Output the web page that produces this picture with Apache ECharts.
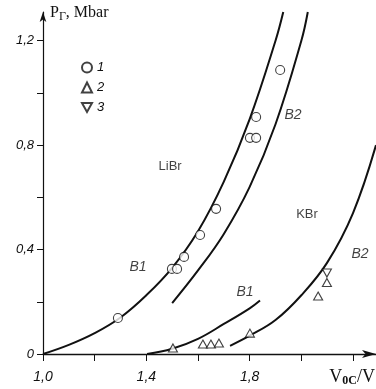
<!DOCTYPE html>
<html>
<head>
<meta charset="utf-8">
<script src="https://cdn.jsdelivr.net/npm/echarts@6/dist/echarts.min.js"></script>
<style>
  html, body { margin: 0; padding: 0; background: #fff; }
  #chart { width: 376px; height: 389px; }
</style>
</head>
<body>
<div id="chart"></div>
<script>
// curves [V0c/V, P Mbar]
const librB1 = [[1.0, 0], [1.1, 0.035], [1.2, 0.08], [1.3, 0.14], [1.4, 0.225], [1.5, 0.33],
  [1.6, 0.47], [1.7, 0.66], [1.8, 0.9], [1.9, 1.2], [1.93, 1.31]];
const librB2 = [[1.5, 0.195], [1.6, 0.32], [1.7, 0.46], [1.8, 0.64], [1.9, 0.88], [2.0, 1.2], [2.025, 1.31]];
const kbrB1 = [[1.403, 0], [1.5, 0.02], [1.6, 0.058], [1.7, 0.115], [1.8, 0.175], [1.84, 0.205]];
const kbrB2 = [[1.724, 0.031], [1.8, 0.07], [1.9, 0.13], [2.0, 0.225], [2.1, 0.35], [2.2, 0.54], [2.289, 0.8]];

// measured points
const points1 = [[1.29, 0.138], [1.499, 0.326], [1.519, 0.326], [1.546, 0.372], [1.608, 0.456],
  [1.67, 0.556], [1.801, 0.828], [1.825, 0.828], [1.825, 0.908], [1.918, 1.088]];
const points2 = [[1.503, 0.023], [1.619, 0.038], [1.65, 0.038], [1.681, 0.042], [1.801, 0.08],
  [2.065, 0.222], [2.099, 0.274]];
const points3 = [[2.099, 0.31]];

// in-plot annotations
const saltNames = [{name: 'LiBr', value: [1.492, 0.72]}, {name: 'KBr', value: [2.022, 0.533]}];
const curveTags = [{name: 'B1', value: [1.368, 0.333]}, {name: 'B2', value: [1.968, 0.916]},
  {name: 'B1', value: [1.782, 0.238]}, {name: 'B2', value: [2.227, 0.383]}];

const xLabels = [1.0, 1.4, 1.8];
const yLabels = [0, 0.4, 0.8, 1.2];
const legendNames = ['1', '2', '3'];

const chart = echarts.init(document.getElementById('chart'));

const ink = '#111';
const comma = v => v === 0 ? '0' : v.toFixed(1).replace('.', ',');
const has = (list, v) => list.some(t => Math.abs(t - v) < 1e-6);

const curve = (name, data) => ({
  name: name,
  type: 'line',
  smooth: 0.4,
  showSymbol: false,
  silent: true,
  lineStyle: { color: ink, width: 2 },
  data: data
});

const marker = (name, symbol, size, data) => ({
  name: name,
  type: 'scatter',
  symbol: symbol,
  symbolSize: size,
  itemStyle: { color: '#fff', borderColor: ink, borderWidth: 1.1 },
  data: data,
  z: 5
});

const option = {
  animation: false,
  textStyle: { fontFamily: 'Liberation Sans' },
  grid: { left: 43, right: 0, top: 12, bottom: 35 },
  legend: {
    data: legendNames,
    orient: 'vertical',
    left: 76,
    top: 56,
    itemGap: 7,
    itemWidth: 10,
    itemHeight: 10,
    textStyle: { fontStyle: 'italic', fontSize: 13, color: ink }
  },
  xAxis: {
    type: 'value',
    min: 1.0,
    max: 2.289,
    interval: 0.2,
    splitLine: { show: false },
    axisLine: { lineStyle: { color: ink, width: 1.3 }, symbol: ['none', 'arrow'], symbolSize: [6, 14] },
    axisTick: { length: 7, lineStyle: { color: ink } },
    axisLabel: {
      showMaxLabel: false,
      margin: 16,
      fontSize: 14,
      fontStyle: 'italic',
      color: ink,
      formatter: v => has(xLabels, v) ? comma(v) : ''
    }
  },
  yAxis: {
    type: 'value',
    min: 0,
    max: 1.31,
    interval: 0.2,
    splitLine: { show: false },
    axisLine: { lineStyle: { color: ink, width: 1.2 }, symbol: ['none', 'arrow'], symbolSize: [5, 10] },
    axisTick: { length: 6, lineStyle: { color: ink } },
    axisLabel: {
      showMaxLabel: false,
      margin: 9,
      fontSize: 13,
      fontStyle: 'italic',
      color: ink,
      formatter: v => has(yLabels, v) ? comma(v) : ''
    }
  },
  graphic: [
    {
      type: 'text',
      left: 50,
      top: 5,
      style: {
        text: '{a|P}{s|Γ}{a|, Mbar}',
        rich: {
          a: { fontFamily: 'Liberation Serif', fontSize: 16, fill: ink },
          s: { fontFamily: 'Liberation Serif', fontSize: 12, fill: ink, padding: [8, 0, 0, 0] }
        }
      }
    },
    {
      type: 'text',
      right: 1,
      bottom: 2,
      style: {
        text: '{a|V}{s|0C}{a|/V}',
        rich: {
          a: { fontFamily: 'Liberation Serif', fontSize: 18, fill: ink },
          s: { fontFamily: 'Liberation Serif', fontSize: 12, fontWeight: 'bold', fill: ink, padding: [8, 0, 0, 0] }
        }
      }
    }
  ],
  series: [
    curve('LiBr B1', librB1),
    curve('LiBr B2', librB2),
    curve('KBr B1', kbrB1),
    curve('KBr B2', kbrB2),
    marker('1', 'circle', 9, points1),
    marker('2', 'triangle', [9, 8], points2),
    marker('3', 'path://M0,0 L10,0 L5,9 Z', [9, 8], points3),
    {
      type: 'scatter',
      symbolSize: 0,
      silent: true,
      data: saltNames,
      label: { show: true, position: 'inside', formatter: '{b}', fontSize: 13, color: ink }
    },
    {
      type: 'scatter',
      symbolSize: 0,
      silent: true,
      data: curveTags,
      label: { show: true, position: 'inside', formatter: '{b}', fontSize: 14, fontStyle: 'italic', color: ink }
    }
  ]
};

chart.setOption(option);
</script>
</body>
</html>
